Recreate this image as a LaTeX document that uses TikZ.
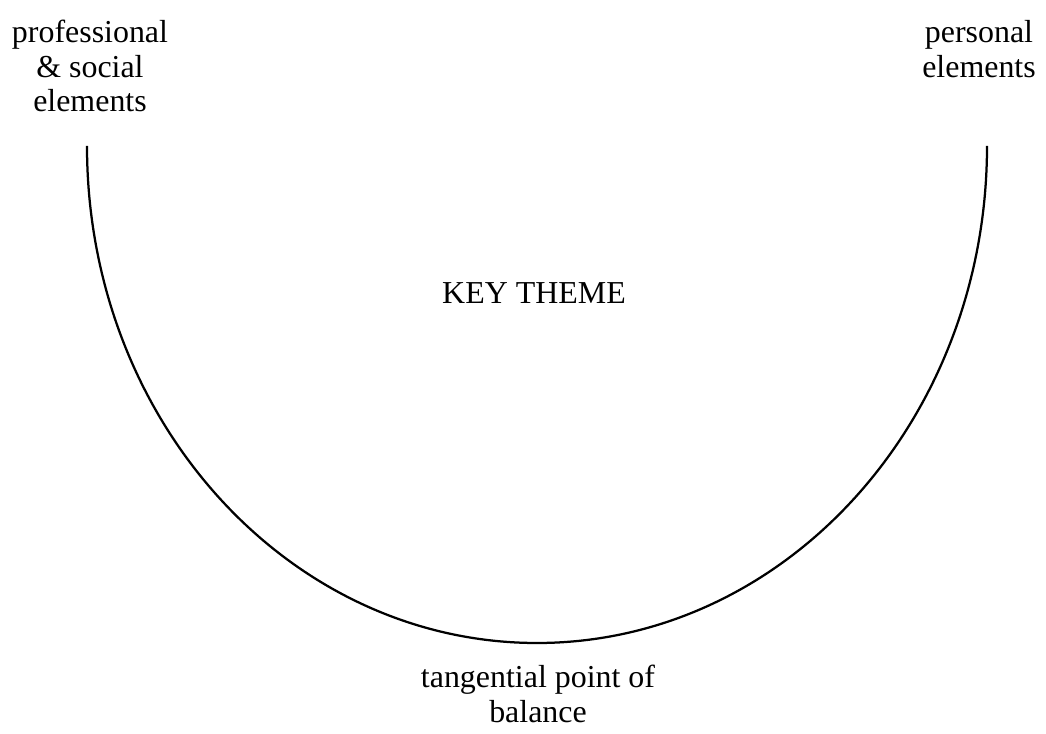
\documentclass[tikz,border=0pt]{standalone}
\usepackage{fontspec}
\setmainfont{Liberation Serif}
\tikzset{
  label text/.style={align=center, font=\fontsize{22.7}{24.8}\selectfont, inner sep=0pt},
  balance curve/.style={line width=1.6pt, black}
}

\begin{document}
\begin{tikzpicture}[x=0.025cm, y=-0.025cm]
  \useasboundingbox (0,0) rectangle (1046,734);
  \coordinate (leftend) at (87,146);
  \coordinate (rightend) at (987,146);
  \draw[balance curve] (leftend) arc[start angle=180, end angle=0, x radius=450, y radius=497];
  \node[label text] (social) at (90,66) {professional\\\& social\\elements};
  \node[label text] (personal) at (979,49) {personal\\elements};
  \node[label text] (theme) at (534,293) {KEY THEME};
  \node[label text] (balance) at (538,694) {tangential point of\\balance};
\end{tikzpicture}
\end{document}
